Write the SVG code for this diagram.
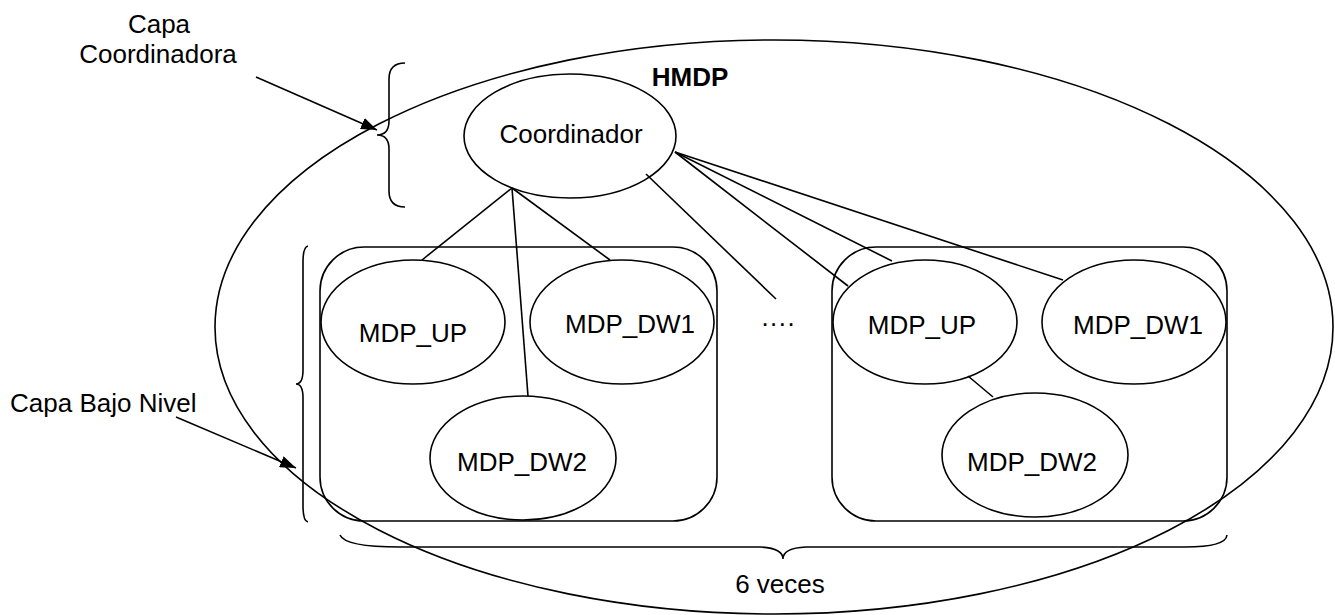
<svg xmlns="http://www.w3.org/2000/svg" width="1335" height="615" viewBox="0 0 1335 615">
<style>
.s{fill:none;stroke:#000;stroke-width:1.6}
.t{font-family:"Liberation Sans",Arial,sans-serif;font-size:26px;fill:#000;text-anchor:middle}
</style>
<defs>
<marker id="ah" viewBox="0 0 16 12" refX="16" refY="6" markerWidth="16" markerHeight="12" markerUnits="userSpaceOnUse" orient="auto">
<path d="M0,0 L16,6 L0,12 Z" fill="#000"/>
</marker>
</defs>
<rect width="1335" height="615" fill="#fff"/>
<g id="hmdp">
<ellipse class="s" cx="774" cy="327" rx="559" ry="287"/>
<text class="t" x="690" y="86" font-weight="bold">HMDP</text>
</g>
<g id="labels">
<text class="t" x="159" y="33">Capa</text>
<text class="t" x="158" y="63">Coordinadora</text>
<text class="t" x="10" y="412" style="text-anchor:start">Capa Bajo Nivel</text>
<text class="t" x="780" y="593">6 veces</text>
<text class="t" x="778" y="332">····</text>
</g>
<g id="braces">
<path class="s" d="M405,63 Q389,63 389,79 L389,121 Q389,135 377,135 Q389,135 389,149 L389,191 Q389,207 405,207"/>
<path class="s" d="M308,246 Q303,247 303,262 L303,370 Q303,384 296,384 Q303,384 303,398 L303,506 Q303,521 308,522"/>
<path class="s" d="M340,535 Q345,547 400,547 L760,547 Q783,548 783,559 Q783,548 806,547 L1185,547 Q1226,547 1227,535"/>
</g>
<g id="coordinador">
<ellipse class="s" cx="570" cy="136" rx="106" ry="62"/>
<text class="t" x="571" y="143">Coordinador</text>
</g>
<g id="group1">
<rect class="s" x="320" y="247" width="397" height="274" rx="44" ry="44"/>
</g>
<g id="mdp_up_1">
<ellipse class="s" cx="413" cy="322" rx="92" ry="62"/>
<text class="t" x="413" y="342">MDP_UP</text>
</g>
<g id="mdp_dw1_1">
<ellipse class="s" cx="622" cy="322" rx="92" ry="62"/>
<text class="t" x="630" y="333">MDP_DW1</text>
</g>
<g id="mdp_dw2_1">
<ellipse class="s" cx="523" cy="458" rx="93" ry="62"/>
<text class="t" x="522" y="471">MDP_DW2</text>
</g>
<g id="group2">
<rect class="s" x="832" y="247" width="395" height="274" rx="44" ry="44"/>
</g>
<g id="mdp_up_2">
<ellipse class="s" cx="925" cy="322" rx="92" ry="62"/>
<text class="t" x="922" y="334">MDP_UP</text>
</g>
<g id="mdp_dw1_2">
<ellipse class="s" cx="1134" cy="322" rx="92" ry="62"/>
<text class="t" x="1138" y="334">MDP_DW1</text>
</g>
<g id="mdp_dw2_2">
<ellipse class="s" cx="1035" cy="455" rx="93" ry="62"/>
<text class="t" x="1032" y="471">MDP_DW2</text>
</g>
<g id="connectors">
<line class="s" x1="512" y1="188" x2="422" y2="260"/>
<line class="s" x1="512" y1="188" x2="528" y2="396"/>
<line class="s" x1="512" y1="188" x2="610" y2="260"/>
<line class="s" x1="646" y1="174" x2="776" y2="299"/>
<line class="s" x1="675" y1="152" x2="848" y2="286"/>
<line class="s" x1="675" y1="152" x2="892" y2="261"/>
<line class="s" x1="675" y1="152" x2="1063" y2="280"/>
<line class="s" x1="968" y1="376" x2="993" y2="397"/>
<line class="s" x1="256" y1="77" x2="377" y2="130" marker-end="url(#ah)"/>
<line class="s" x1="176" y1="417" x2="296" y2="468" marker-end="url(#ah)"/>
</g>
</svg>
